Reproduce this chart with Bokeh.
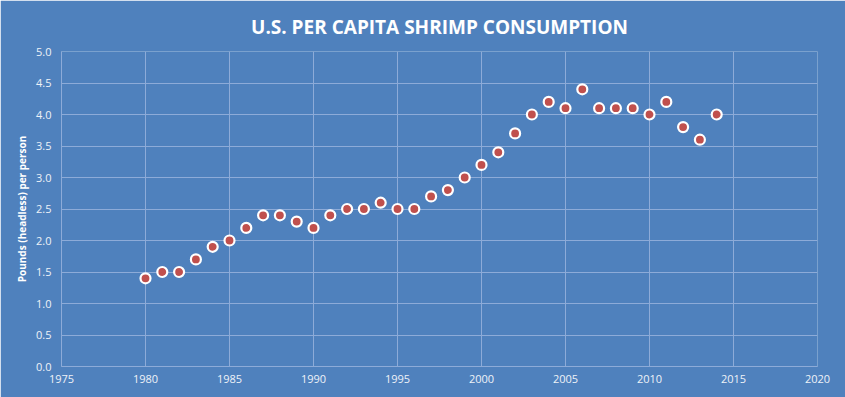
from bokeh.plotting import figure
from bokeh.embed import file_html
from bokeh.resources import INLINE
from bokeh.models import ColumnDataSource, FixedTicker, Range1d, CustomJSTickFormatter

years = [1980, 1981, 1982, 1983, 1984, 1985, 1986, 1987, 1988, 1989,
         1990, 1991, 1992, 1993, 1994, 1995, 1996, 1997, 1998, 1999,
         2000, 2001, 2002, 2003, 2004, 2005, 2006, 2007, 2008, 2009,
         2010, 2011, 2012, 2013, 2014]
pounds = [1.4, 1.5, 1.5, 1.7, 1.9, 2.0, 2.2, 2.4, 2.4, 2.3,
          2.2, 2.4, 2.5, 2.5, 2.6, 2.5, 2.5, 2.7, 2.8, 3.0,
          3.2, 3.4, 3.7, 4.0, 4.2, 4.1, 4.4, 4.1, 4.1, 4.1,
          4.0, 4.2, 3.8, 3.6, 4.0]
x_ticks = [1975, 1980, 1985, 1990, 1995, 2000, 2005, 2010, 2015, 2020]
y_ticks = [0.0, 0.5, 1.0, 1.5, 2.0, 2.5, 3.0, 3.5, 4.0, 4.5, 5.0]
title_text = "U.S. PER CAPITA SHRIMP CONSUMPTION"

BG = "#4F81BD"
GRID = "#8DABD8"
TXT = "#EEF2F8"
FONT = "Open Sans"

src = ColumnDataSource(dict(x=years, y=pounds))

p = figure(width=845, height=397, output_backend="svg", toolbar_location=None,
           x_range=Range1d(1975, 2020), y_range=Range1d(0, 5),
           title=title_text,
           min_border_left=61, min_border_right=28, min_border_top=51,
           min_border_bottom=31)
p.background_fill_color = BG
p.border_fill_color = BG
p.outline_line_color = None

p.title.text_color = "white"
p.title.text_font = FONT
p.title.text_font_size = "19px"
p.title.text_font_style = "bold"
p.title.align = "center"
p.title.vertical_align = "middle"
p.title.standoff = 22

p.xaxis.ticker = FixedTicker(ticks=x_ticks)
p.yaxis.ticker = FixedTicker(ticks=y_ticks)
p.yaxis.formatter = CustomJSTickFormatter(code="return tick.toFixed(1);")

for ax in (p.xaxis[0], p.yaxis[0]):
    ax.axis_line_color = GRID
    ax.axis_line_width = 1
    ax.major_tick_out = 0
    ax.major_tick_in = 0
    ax.minor_tick_out = 0
    ax.minor_tick_in = 0
    ax.major_tick_line_color = None
    ax.minor_tick_line_color = None
    ax.major_label_text_color = TXT
    ax.major_label_text_font = FONT
    ax.major_label_text_font_size = "11px"

p.xaxis.major_label_standoff = 8
p.yaxis.major_label_standoff = 10
p.yaxis.axis_label = "Pounds (headless) per person"
p.yaxis.axis_label_text_color = "white"
p.yaxis.axis_label_text_font = FONT
p.yaxis.axis_label_text_font_size = "10px"
p.yaxis.axis_label_text_font_style = "bold"
p.yaxis.axis_label_standoff = 4

p.xgrid.grid_line_color = GRID
p.ygrid.grid_line_color = GRID
p.xgrid.grid_line_width = 1
p.ygrid.grid_line_width = 1

p.scatter("x", "y", source=src, size=10, fill_color="#C0504D",
          line_color="white", line_width=2.2)

open("out.html", "w").write(file_html(p, INLINE))
